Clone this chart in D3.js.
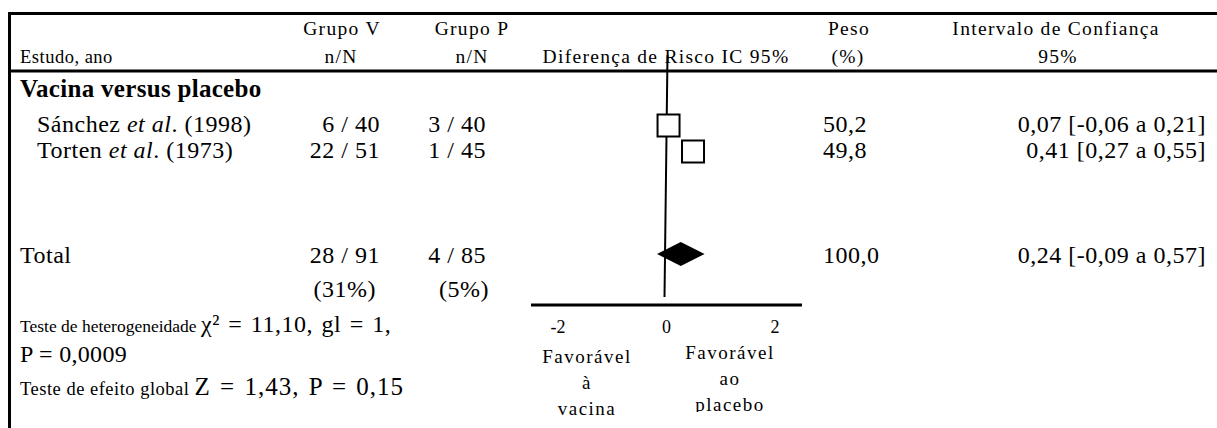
<!DOCTYPE html>
<html>
<head>
<meta charset="utf-8">
<script src="https://cdn.jsdelivr.net/npm/d3@7"></script>
<style>
  body{margin:0;background:#fff;}
  svg text{font-family:"Liberation Serif","Times New Roman",serif;fill:#000;}
</style>
</head>
<body>
<svg width="1217" height="428"></svg>
<script>
// ---- data ----
const studies=['Sánchez','Torten'];
const years=['1998','1973'];
const grupoV=['6 / 40','22 / 51'];
const grupoP=['3 / 40','1 / 45'];
const peso=['50,2','49,8'];
const rd=[0.07,0.41];
const ciText=['0,07 [-0,06 a 0,21]','0,41 [0,27 a 0,55]'];
const total={label:'Total',v:'28 / 91',vPct:'(31%)',p:'4 / 85',pPct:'(5%)',peso:'100,0',
             est:0.24,lo:-0.09,hi:0.57,ci:'0,24 [-0,09 a 0,57]'};
const ticks=[-2,0,2];

const svg=d3.select('svg');
const W=1217,H=428;

// scales: tick labels and marks are laid out on separate scales in the original
const xAxis=d3.scaleLinear().domain([-2.5,2.5]).range([531,802]);
const xMark=d3.scaleLinear().domain([-1,1]).range([663.5-72,663.5+72]);

const rowY=d3.scaleOrdinal().domain(studies).range([132,158]);

/****** frame ******/
const rule=(x1,y1,x2,y2,w)=>svg.append('line')
  .attr('x1',x1).attr('y1',y1).attr('x2',x2).attr('y2',y2)
  .attr('stroke','#000').attr('stroke-width',w);
rule(8,13.5,W,13.5,3);
rule(8,71,W,71,3);
rule(9.5,12,9.5,H,3);

const txt=(x,y,s,opt={})=>svg.append('text')
  .attr('x',x).attr('y',y)
  .attr('font-size',opt.size||19)
  .attr('text-anchor',opt.anchor||'start')
  .attr('font-weight',opt.weight||'normal')
  .attr('letter-spacing',opt.ls||0)
  .text(s);

/****** header ******/
const hs={size:19.5,ls:1.3};
txt(20,63,'Estudo, ano',{size:18.5,ls:0.5});
txt(342,35,'Grupo V',{...hs,anchor:'middle'});
txt(341,63,'n/N',{...hs,anchor:'middle'});
txt(472,35,'Grupo P',{...hs,anchor:'middle'});
txt(472,63,'n/N',{...hs,anchor:'middle'});
txt(666,63,'Diferença de Risco IC 95%',{...hs,anchor:'middle'});
txt(849,35,'Peso',{...hs,anchor:'middle'});
txt(848,63,'(%)',{...hs,anchor:'middle'});
txt(1056,35,'Intervalo de Confiança',{...hs,anchor:'middle'});
txt(1058,63,'95%',{...hs,anchor:'middle'});

txt(20,97,'Vacina versus placebo',{size:25,weight:'bold',ls:0.3});

/****** study rows ******/
const rs=24,rl=0.5;
studies.forEach((s,i)=>{
  const y=rowY(s);
  const t=svg.append('text').attr('x',37).attr('y',y).attr('font-size',rs).attr('letter-spacing',rl);
  t.append('tspan').text(s+' ');
  t.append('tspan').attr('font-style','italic').text('et al');
  t.append('tspan').text('. ('+years[i]+')');
  txt(380,y,grupoV[i],{size:rs,anchor:'end',ls:rl});
  txt(486,y,grupoP[i],{size:rs,anchor:'end',ls:rl});
  txt(823,y,peso[i],{size:rs,ls:rl});
  txt(1206,y,ciText[i],{size:rs,anchor:'end',ls:rl});
});

/****** total rows ******/
txt(20,263,total.label,{size:rs,ls:rl});
txt(380,263,total.v,{size:rs,anchor:'end',ls:rl});
txt(376,297,total.vPct,{size:rs,anchor:'end',ls:rl});
txt(489,297,total.pPct,{size:rs,anchor:'end',ls:rl});
txt(486,263,total.p,{size:rs,anchor:'end',ls:rl});
txt(823,263,total.peso,{size:rs,ls:rl});
txt(1206,263,total.ci,{size:rs,anchor:'end',ls:rl});

/****** stats ******/
const st1=svg.append('text').attr('x',20).attr('y',332).attr('font-size',17.5);
st1.append('tspan').text('Teste de heterogeneidade ');
st1.append('tspan').attr('font-size',24).attr('letter-spacing',0.5).attr('word-spacing',2).text('χ² = 11,10, gl = 1,');
txt(20,362,'P = 0,0009',{size:24,ls:0.3});
const st2=svg.append('text').attr('x',20).attr('y',395).attr('font-size',18.5).attr('letter-spacing',0.5);
st2.append('tspan').text('Teste de efeito global  ');
st2.append('tspan').attr('font-size',25).attr('letter-spacing',1).attr('word-spacing',2).text('Z = 1,43, P = 0,15');

/****** forest plot ******/
svg.append('line')
  .attr('x1',xMark(0)+4).attr('y1',55)
  .attr('x2',xMark(0)+1).attr('y2',297)
  .attr('stroke','#000').attr('stroke-width',2);

const sq=22;
svg.selectAll('rect.study').data(rd).enter().append('rect')
  .attr('class','study')
  .attr('x',d=>xMark(d)-sq/2)
  .attr('y',(d,i)=>rowY(studies[i])-6.5-sq/2)
  .attr('width',sq).attr('height',sq)
  .attr('fill','#fff').attr('stroke','#000').attr('stroke-width',2);

const dy=254,dh=12;
svg.append('path')
  .attr('d',d3.line()([[xMark(total.lo),dy],[xMark(total.est),dy-dh],[xMark(total.hi),dy],[xMark(total.est),dy+dh]])+'Z')
  .attr('fill','#000');

// axis
rule(xAxis.range()[0],305,xAxis.range()[1],305,3);
svg.selectAll('text.tick').data(ticks).enter().append('text')
  .attr('class','tick')
  .attr('x',d=>xAxis(d)).attr('y',333)
  .attr('text-anchor','middle').attr('font-size',18)
  .text(d=>d);

const lab=(x,y,lines,clip)=>{
  const g=svg.append('g');
  if(clip) g.attr('clip-path','url(#'+clip+')');
  lines.forEach((l,i)=>g.append('text').attr('x',x).attr('y',y+i*26)
    .attr('text-anchor','middle').attr('font-size',19).attr('letter-spacing',1.5).text(l));
};
svg.append('clipPath').attr('id','cp').append('rect')
  .attr('x',600).attr('y',300).attr('width',260).attr('height',112);
lab(587,363,['Favorável','à','vacina']);
lab(730,359,['Favorável','ao','placebo'],'cp');
</script>
</body>
</html>
